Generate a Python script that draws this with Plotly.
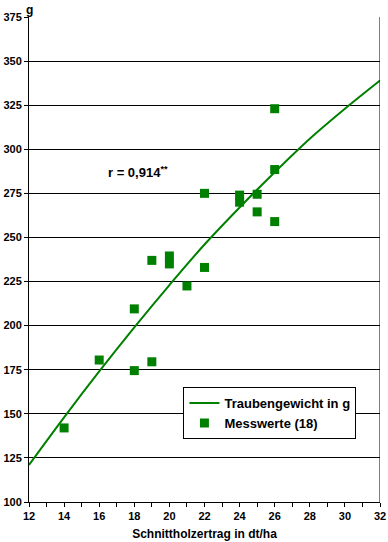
import plotly.graph_objects as go

# Measured points
mess_x = [14, 16, 18, 18, 19, 19, 20, 20, 21, 22, 22, 24, 24, 25, 25, 26, 26, 26]
mess_y = [142, 180.5, 209.5, 174.5, 237, 179.5, 239.5, 235, 222.5, 275, 233, 274, 270, 274.5, 264.5, 323, 288.5, 259]

# Fitted curve
curve_x = [12, 14, 16, 18, 20, 22, 24, 26, 28, 30, 32]
curve_y = [121, 148, 174, 199, 223, 246, 267, 287, 306, 323, 339]

y_ticks = [100, 125, 150, 175, 200, 225, 250, 275, 300, 325, 350, 375]
x_ticks = [12, 14, 16, 18, 20, 22, 24, 26, 28, 30, 32]

GREEN = "#008000"
FONT = "Liberation Sans, Arial, sans-serif"

fig = go.Figure()
fig.add_trace(go.Scatter(x=curve_x, y=curve_y, mode="lines", line=dict(color=GREEN, width=2, shape="spline"),
                         name="Traubengewicht in g"))
fig.add_trace(go.Scatter(x=mess_x, y=mess_y, mode="markers",
                         marker=dict(symbol="square", size=9, color=GREEN, line=dict(width=0)),
                         name="Messwerte (18)"))

fig.update_layout(
    width=388, height=542,
    margin=dict(l=29, r=8, t=17, b=40, autoexpand=False),
    paper_bgcolor="white", plot_bgcolor="white",
    font=dict(family=FONT, size=11, color="black", weight="bold"),
    showlegend=True,
    legend=dict(x=0.44, y=0.237, xanchor="left", yanchor="top",
                bgcolor="white", bordercolor="black", borderwidth=1,
                font=dict(size=13, family=FONT, weight="bold"),
                itemwidth=30, tracegroupgap=0),
    xaxis=dict(range=[12, 32], tickvals=x_ticks, ticks="outside", ticklen=4, tickcolor="black",
               showline=True, linecolor="black", linewidth=1, mirror=False, showgrid=False, zeroline=False,
               automargin=False,
               minor=dict(dtick=1, ticks="outside", ticklen=4, tickcolor="black"),
               tickfont=dict(size=11, family=FONT, weight="bold"),
               title=dict(text="Schnittholzertrag in dt/ha", font=dict(size=12, family=FONT, weight="bold"), standoff=8)),
    yaxis=dict(range=[100, 375], tickvals=y_ticks, ticks="outside", ticklen=4, tickcolor="black",
               showline=True, linecolor="black", linewidth=1, showgrid=True, gridcolor="black", gridwidth=1,
               automargin=False,
               zeroline=False, tickfont=dict(size=11, family=FONT, weight="bold")),
    shapes=[dict(type="line", xref="x", yref="y", x0=32, x1=32, y0=100, y1=375, line=dict(color="black", width=1))],
    annotations=[
        dict(text="g", xref="paper", yref="paper", x=0.0, y=1.0, xanchor="center", yanchor="bottom",
             showarrow=False, font=dict(size=12, family=FONT, weight="bold"), yshift=-2),
        dict(text="r = 0,914<sup>**</sup>", xref="x", yref="y", x=16.4, y=287, xanchor="left", yanchor="middle",
             showarrow=False, font=dict(size=13, family=FONT, weight="bold")),
    ],
)

fig.write_html("out.html", config={"displayModeBar": False},
               post_script="document.body.style.margin='0';document.body.style.overflow='hidden';")
